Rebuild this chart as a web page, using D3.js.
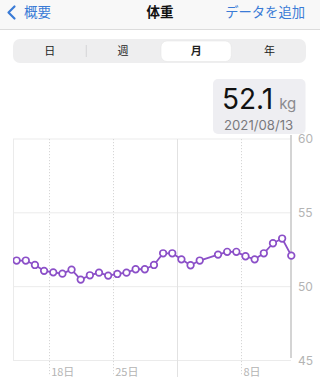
<!DOCTYPE html>
<html><head><meta charset="utf-8">
<script src="https://cdn.jsdelivr.net/npm/d3@7"></script>
<style>
html,body{margin:0;padding:0;background:#fff;}
svg{display:block;}
text{font-family:"Inter","Roboto","Noto Sans CJK JP",sans-serif;}
.jp{font-family:"Noto Sans CJK JP","Noto Sans",sans-serif;}
</style></head>
<body>
<script>
// ---- data ----
const dates = ["2021-07-13","2021-07-14","2021-07-15","2021-07-16","2021-07-17","2021-07-18","2021-07-19","2021-07-20",
  "2021-07-21","2021-07-22","2021-07-23","2021-07-24","2021-07-25","2021-07-26","2021-07-27","2021-07-28","2021-07-29",
  "2021-07-30","2021-07-31","2021-08-01","2021-08-02","2021-08-03","2021-08-05","2021-08-06","2021-08-07","2021-08-08",
  "2021-08-09","2021-08-10","2021-08-11","2021-08-12","2021-08-13"];
const weights = [51.77,51.77,51.77,51.47,51.07,50.97,50.88,51.15,
  50.48,50.77,50.95,50.75,50.86,50.95,51.18,51.18,51.47,
  52.26,52.26,51.85,51.45,51.77,52.17,52.36,52.36,52.06,
  51.85,52.26,52.94,53.26,52.1];
const yTicks = [45,50,55,60];
const weekTicks = ["2021-07-18","2021-07-25","2021-08-08"];
const monthTicks = ["2021-08-01"];
const weekLabels = ["18日","25日","8日"];
const segments = ["日","週","月","年"];
const selectedSegment = "月";
const currentValue = "52.1";
const currentUnit = "kg";
const currentDate = "2021/08/13";

const W = 320, H = 387;
const purple = "#8b4fc8", blue = "#3a7bd6";
const parse = d3.timeParse("%Y-%m-%d");
const noon = s => d3.timeHour.offset(parse(s), 12);

const svg = d3.select("body").append("svg").attr("width", W).attr("height", H);

// header
svg.append("rect").attr("x",0).attr("y",0).attr("width",W).attr("height",29).attr("fill","#f8f8f8");
svg.append("line").attr("x1",0).attr("x2",W).attr("y1",29.5).attr("y2",29.5).attr("stroke","#dcdcdc");
svg.append("path").attr("d","M14.5,6.5 L8.5,12.5 L14.5,18.5").attr("fill","none").attr("stroke",blue).attr("stroke-width",2.2).attr("stroke-linecap","round").attr("stroke-linejoin","round");
svg.append("text").attr("class","jp").attr("x",24).attr("y",17).attr("font-size",13.5).attr("fill",blue).text("概要");
svg.append("text").attr("class","jp").attr("x",160).attr("y",17).attr("text-anchor","middle").attr("font-size",13.5).attr("font-weight","bold").attr("fill","#111").text("体重");
svg.append("text").attr("class","jp").attr("x",305).attr("y",17).attr("text-anchor","end").attr("font-size",13.3).attr("fill",blue).text("データを追加");

// segmented control
const seg = d3.scaleBand().domain(segments).range([13,306]);
svg.append("rect").attr("x",13).attr("y",39).attr("width",293).attr("height",24).attr("rx",7).attr("fill","#eeeeef");
svg.append("rect").attr("x",seg(selectedSegment)+1.5).attr("y",41).attr("width",seg.bandwidth()-3).attr("height",20.5).attr("rx",6)
  .attr("fill","#fff").attr("stroke","#e2e2e2").attr("stroke-width",0.5);
svg.append("line").attr("x1",seg("週")).attr("x2",seg("週")).attr("y1",45).attr("y2",57).attr("stroke","#d4d4d6");
svg.selectAll(".seg").data(segments).enter().append("text").attr("class","jp")
  .attr("x",d=>seg(d)+seg.bandwidth()/2).attr("y",51).attr("dy","0.36em").attr("text-anchor","middle")
  .attr("font-size",11).attr("font-weight",d=>d===selectedSegment?"bold":"normal").attr("fill","#222").text(d=>d);

// value box
svg.append("rect").attr("x",213).attr("y",79).attr("width",92.5).attr("height",55).attr("rx",5).attr("fill","#eeeef2");
const vt = svg.append("text").attr("x",222).attr("y",108.5).attr("fill","#111");
vt.append("tspan").attr("font-size",28).text(currentValue);
vt.append("tspan").attr("font-size",15).attr("fill","#8a8a8e").attr("dx",6).text(currentUnit);
svg.append("text").attr("x",224).attr("y",130).attr("font-size",13.2).attr("fill","#7a7a7e").text(currentDate);

// scales
const x = d3.scaleTime().domain([new Date(2021,6,14,2,30), new Date(2021,7,13,11,15)]).range([13,291]);
const y = d3.scaleLinear().domain([45,60]).range([360.5,139]);

// horizontal grid
svg.selectAll(".hg").data(yTicks).enter().append("line")
  .attr("x1",13).attr("x2",291).attr("y1",d=>y(d)).attr("y2",d=>y(d)).attr("stroke","#ebebeb");
svg.append("line").attr("x1",13.5).attr("x2",13.5).attr("y1",y(60)).attr("y2",y(45)).attr("stroke","#ebebeb");

// vertical grid
svg.selectAll(".wg").data(weekTicks).enter().append("line")
  .attr("x1",d=>Math.round(x(parse(d)))+0.5).attr("x2",d=>Math.round(x(parse(d)))+0.5)
  .attr("y1",y(60)).attr("y2",376).attr("stroke","#d6d6d6").attr("stroke-dasharray","1.2,1.8");
svg.selectAll(".mg").data(monthTicks).enter().append("line")
  .attr("x1",d=>Math.round(x(parse(d)))+0.5).attr("x2",d=>Math.round(x(parse(d)))+0.5)
  .attr("y1",y(60)).attr("y2",377).attr("stroke","#e2e2e2");
svg.selectAll(".wl").data(weekTicks).enter().append("text").attr("class","jp")
  .attr("x",d=>x(parse(d))+2.5).attr("y",372).attr("dy","0.36em").attr("font-size",11).attr("fill","#b4b4b4")
  .text((d,i)=>weekLabels[i]);

// right axis
const ax = svg.append("g").attr("transform","translate(291,0)").call(d3.axisRight(y).tickValues(yTicks).tickSize(0).tickPadding(7));
ax.select(".domain").remove();
ax.selectAll("text").attr("font-size",12).attr("fill","#b4b4b4").attr("font-family","Inter,Roboto,sans-serif");
svg.append("line").attr("x1",291).attr("x2",291).attr("y1",135).attr("y2",358).attr("stroke","#c6c6c6").attr("stroke-width",1.5);

// series
const pts = dates.map((d,i)=>({t:noon(d), v:weights[i]}));
svg.append("clipPath").attr("id","clip").append("rect").attr("x",13).attr("y",130).attr("width",285).attr("height",240);
const g = svg.append("g").attr("clip-path","url(#clip)");
g.append("path").datum(pts).attr("fill","none").attr("stroke",purple).attr("stroke-width",1.8).attr("stroke-linejoin","round")
  .attr("d",d3.line().x(d=>x(d.t)).y(d=>y(d.v)));
g.selectAll("circle").data(pts).enter().append("circle")
  .attr("cx",d=>x(d.t)).attr("cy",d=>y(d.v)).attr("r",3.3).attr("fill","#fff").attr("stroke",purple).attr("stroke-width",1.7);
</script>
</body></html>
